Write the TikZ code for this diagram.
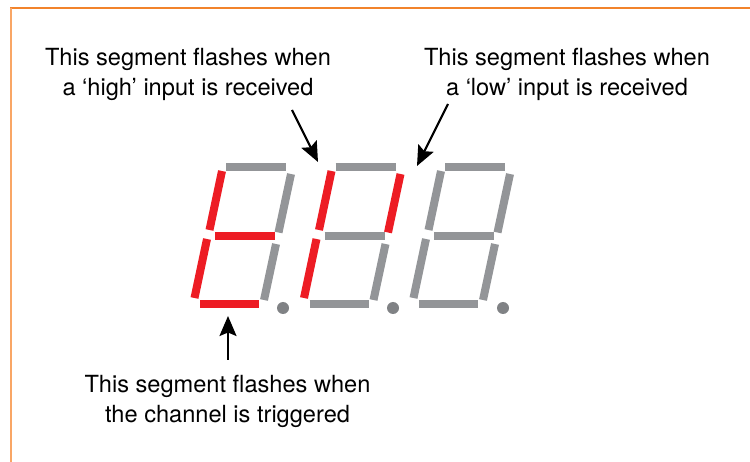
\documentclass[tikz,border=0pt]{standalone}
\usepackage{fontspec}
\setmainfont{TeX Gyre Heros}
\usetikzlibrary{arrows.meta}
\definecolor{segred}{HTML}{ED1C24}
\definecolor{seggray}{HTML}{939598}
\definecolor{dotgray}{HTML}{808285}
\definecolor{frametop}{HTML}{F2832B}
\definecolor{frameleft}{HTML}{F9A665}
\tikzset{
  seg/.style={line width=8pt, line cap=butt},
  on/.style={seg, draw=segred},
  off/.style={seg, draw=seggray},
  dp/.style={fill=dotgray, draw=none},
  label/.style={font=\fontsize{23.6}{30}\selectfont, align=center, anchor=base, inner sep=0pt},
  pointer/.style={line width=2.2pt, -{Stealth[length=20pt, width=17pt, inset=3.5pt]}},
}
\begin{document}
\begin{tikzpicture}[x=1pt, y=-1pt]
\useasboundingbox (0,0) rectangle (750,462);
\fill[white] (0,0) rectangle (750,462);
% frame
\draw[frametop, line width=1.3pt] (10,8) -- (750,8);
\draw[frameleft, line width=2pt] (11,8) -- (11,462);

% digits: a top, b upper-right, c lower-right, d bottom, e lower-left, f upper-left, g middle
\newcommand{\digitseven}[8]{%
  \begin{scope}[xshift=#1pt]
    \draw[#2] (226,167) -- (286,167);
    \draw[#3] (291,174) -- (278.5,232.5);
    \draw[#4] (276,244) -- (264,300);
    \draw[#5] (200,304) -- (259,304);
    \draw[#6] (207,239) -- (194.5,298);
    \draw[#7] (222,171) -- (209.5,230);
    \draw[#8] (215,236) -- (275,236);
  \end{scope}}
\digitseven{0}{off}{off}{off}{on}{on}{on}{on}
\digitseven{109.5}{off}{on}{off}{off}{on}{on}{off}
\digitseven{219}{off}{off}{off}{off}{off}{off}{off}
\fill[dp] (283,308) circle (6);
\fill[dp] (393,308) circle (6);
\fill[dp] (503,308) circle (6);

% labels (base anchor = baseline of the last line)
\node[label] (high) at (188,96) {This segment flashes when\\a ‘high’ input is received};
\node[label] (low) at (567,96) {This segment flashes when\\a ‘low’ input is received};
\node[label] (trig) at (227.5,422) {This segment flashes when\\the channel is triggered};

% arrows
\coordinate (hightail) at (292,110);
\coordinate (hightip) at (318,162);
\coordinate (lowtail) at (448,104);
\coordinate (lowtip) at (417,166);
\coordinate (trigtail) at (228,360);
\coordinate (trigtip) at (228,316);
\draw[pointer] (hightail) -- (hightip);
\draw[pointer] (lowtail) -- (lowtip);
\draw[pointer] (trigtail) -- (trigtip);
\end{tikzpicture}
\end{document}
